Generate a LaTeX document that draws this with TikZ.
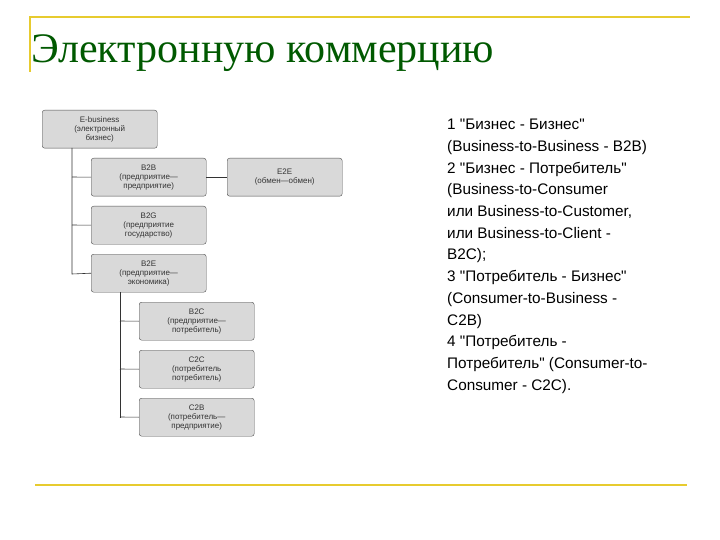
\documentclass[tikz,border=0pt]{standalone}
\usepackage{fontspec}
\setmainfont[Ligatures=TeXOff]{Liberation Sans}
\newfontfamily\titlefont{Liberation Serif}
\newcommand\qq{"}
\begin{document}
\begin{tikzpicture}[x=1pt,y=-1pt,
  bx/.style={draw=black!70,fill=black!15,rounded corners=2.5pt,minimum width=115pt,minimum height=38pt,inner sep=1pt,align=center,font=\fontsize{8}{9}\selectfont,text=black!80},
  ln/.style={draw=black!80,line width=0.6pt},
  gold/.style={draw=yellow!60!brown,line width=1.4pt}]
\useasboundingbox (0,0) rectangle (720,540);
\draw[gold] (30,72) -- (30,17) -- (690,17);
\draw[gold] (35,485) -- (687,485);
\node[anchor=base west,font=\titlefont\fontsize{42}{44}\selectfont,text=green!35!black,inner sep=0] (t) at (31,63) {Электронную коммерцию};
\node[bx,anchor=north west] (eb) at (42,110) {E-business\\(электронный\\бизнес)};
\node[bx,anchor=north west] (b2b) at (91,158) {B2B\\(предприятие—\\предприятие)};
\node[bx,anchor=north west] (e2e) at (227,158) {E2E\\(обмен—обмен)};
\node[bx,anchor=north west] (b2g) at (91,206) {B2G\\(предприятие\\государство)};
\node[bx,anchor=north west] (b2e) at (91,254) {B2E\\(предприятие—\\экономика)};
\node[bx,anchor=north west] (b2c) at (139,302) {B2C\\(предприятие—\\потребитель)};
\node[bx,anchor=north west] (c2c) at (139,350) {C2C\\(потребитель\\потребитель)};
\node[bx,anchor=north west] (c2b) at (139,398) {C2B\\(потребитель—\\предприятие)};
\coordinate (v1) at (72,148);
\coordinate (v1e) at (72,274);
\coordinate (v2) at (120,292);
\coordinate (v2e) at (120,418);
\draw[ln] (v1) -- (v1e) -- (b2e.west);
\draw[ln] (72,177) -- (b2b.west);
\draw[ln] (72,225) -- (b2g.west);
\draw[ln] (b2b.east) -- (e2e.west);
\draw[ln] (v2) -- (v2e);
\draw[ln] (120,321) -- (b2c.west);
\draw[ln] (120,369) -- (c2c.west);
\draw[ln] (120,417) -- (c2b.west);
\node[anchor=north west,align=left,inner sep=0,font=\fontsize{15.3}{21.7}\selectfont] (txt) at (447,119) {1 \qq Бизнес - Бизнес\qq\\(Business-to-Business - B2B)\\2 \qq Бизнес - Потребитель\qq\\(Business-to-Consumer\\или Business-to-Customer,\\или Business-to-Client -\\B2C);\\3 \qq Потребитель - Бизнес\qq\\(Consumer-to-Business -\\C2B)\\4 \qq Потребитель -\\Потребитель\qq{} (Consumer-to-\\Consumer - C2C).};
\end{tikzpicture}
\end{document}
